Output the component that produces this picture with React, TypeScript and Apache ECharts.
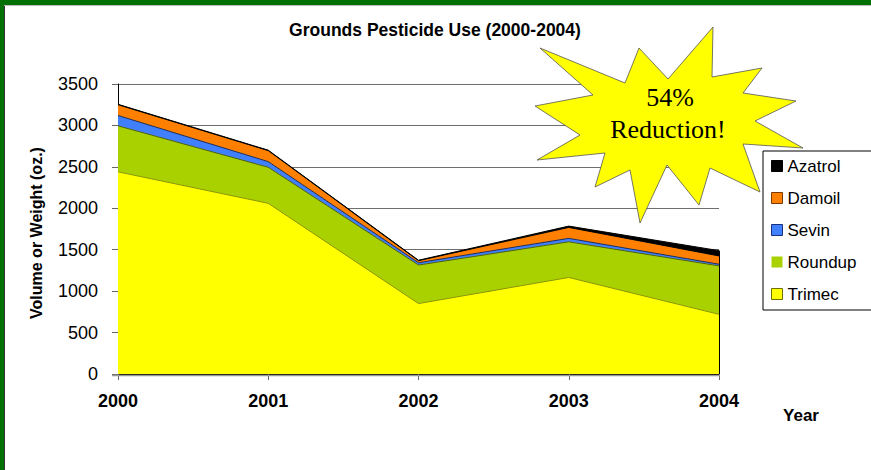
import React, { useEffect, useRef } from "react";
import * as echarts from "echarts";

const years = ["2000", "2001", "2002", "2003", "2004"];
const trimec = [2440, 2060, 850, 1165, 720];
const roundup = [555, 435, 465, 430, 585];
const sevin = [125, 68, 28, 42, 20];
const damoil = [130, 133, 25, 132, 100];
const azatrol = [5, 5, 5, 16, 64];
const yTicks = { min: 0, max: 3500, interval: 500 };

const FONT = "'Liberation Sans', Arial, sans-serif";

export default function App() {
  const ref = useRef<HTMLDivElement>(null);
  useEffect(() => {
    if (!ref.current) return;
    const chart = echarts.init(ref.current, null, { renderer: "svg" });
    const lastIdx = years.length - 1;
    const lastTotal =
      trimec[lastIdx] + roundup[lastIdx] + sevin[lastIdx] + damoil[lastIdx] + azatrol[lastIdx];

    const mk = (name: string, data: number[], color: string, line: string, extra: any = {}) => ({
      name,
      type: "line",
      stack: "total",
      data,
      symbol: "none",
      lineStyle: { color: line, width: 1 },
      areaStyle: { color, opacity: 1 },
      itemStyle: { color },
      emphasis: { disabled: true },
      ...extra,
    });

    const starPts = [
      [540, 48], [625, 83], [639, 48], [668, 79], [713, 27], [712, 77], [762, 68], [743, 93],
      [796, 101], [755, 121], [803, 148], [743, 144], [760, 192], [710, 168], [699, 205],
      [667, 165], [640, 223], [630, 170], [595, 187], [605, 153], [537, 160], [580, 135],
      [535, 106], [593, 95],
    ];

    chart.setOption({
      animation: false,
      backgroundColor: "#ffffff",
      grid: { left: 118, top: 84, right: 152, bottom: 96, containLabel: false },
      xAxis: {
        type: "category",
        data: years,
        boundaryGap: false,
        axisLine: { show: true, lineStyle: { color: "#000", width: 1 } },
        axisTick: { show: true, length: 6, lineStyle: { color: "#666" } },
        axisLabel: {
          color: "#000",
          fontFamily: FONT,
          fontSize: 18,
          fontWeight: "bold",
          margin: 18,
        },
        splitLine: { show: false },
      },
      yAxis: {
        type: "value",
        min: yTicks.min,
        max: yTicks.max,
        interval: yTicks.interval,
        axisLine: { show: true, lineStyle: { color: "#000", width: 1 } },
        axisTick: { show: true, length: 6, lineStyle: { color: "#666" } },
        axisLabel: {
          color: "#000",
          fontFamily: FONT,
          fontSize: 18,
          margin: 20,
          formatter: (v: number) => String(v),
        },
        splitLine: { show: true, lineStyle: { color: "#6e6e6e", width: 1 } },
      },
      legend: {
        orient: "vertical",
        left: 763,
        top: 151,
        padding: [6, 40, 7, 8],
        itemGap: 14,
        itemWidth: 11,
        itemHeight: 11,
        icon: "rect",
        backgroundColor: "#ffffff",
        borderColor: "#000",
        borderWidth: 1,
        borderRadius: 0,
        textStyle: { color: "#000", fontFamily: FONT, fontSize: 17, lineHeight: 18 },
        data: [
          { name: "Azatrol", itemStyle: { color: "#000000", borderColor: "#000", borderWidth: 1 } },
          { name: "Damoil", itemStyle: { color: "#FF8000", borderColor: "#7a3a00", borderWidth: 1 } },
          { name: "Sevin", itemStyle: { color: "#4080FF", borderColor: "#1a2f80", borderWidth: 1 } },
          { name: "Roundup", itemStyle: { color: "#A9D100", borderColor: "#A9D100", borderWidth: 0 } },
          { name: "Trimec", itemStyle: { color: "#FFFF00", borderColor: "#6f6f00", borderWidth: 1 } },
        ],
      },
      series: [
        mk("Trimec", trimec, "#FFFF00", "#8a9600", {
          markLine: {
            silent: true,
            symbol: "none",
            label: { show: false },
            lineStyle: { color: "#000", width: 1, type: "solid" },
            data: [[{ coord: [years[lastIdx], 0] }, { coord: [years[lastIdx], lastTotal] }]],
          },
        }),
        mk("Roundup", roundup, "#A9D100", "#4f6200"),
        mk("Sevin", sevin, "#4080FF", "#1b2a55"),
        mk("Damoil", damoil, "#FF8000", "#000"),
        mk("Azatrol", azatrol, "#000000", "#000"),
      ],
      graphic: [
        { type: "rect", shape: { x: 0, y: 0, width: 871, height: 5 }, style: { fill: "#037003" }, z: 100 },
        { type: "rect", shape: { x: 0, y: 0, width: 4, height: 470 }, style: { fill: "#037003" }, z: 100 },
        { type: "line", shape: { x1: 4.5, y1: 5, x2: 4.5, y2: 470 }, style: { stroke: "#333", lineWidth: 1 }, z: 100 },
        { type: "line", shape: { x1: 4, y1: 5.5, x2: 871, y2: 5.5 }, style: { stroke: "#bbb", lineWidth: 1 }, z: 100 },
        { type: "line", shape: { x1: 112, y1: 375.5, x2: 720, y2: 375.5 }, style: { stroke: "#9a9a9a", lineWidth: 1.5 }, z: 5 },
        {
          type: "text",
          x: 435,
          y: 30,
          style: {
            text: "Grounds Pesticide Use (2000-2004)",
            fill: "#000",
            font: `bold 17.5px ${FONT}`,
            textAlign: "center",
            textVerticalAlign: "middle",
          },
        },
        {
          type: "text",
          x: 36,
          y: 233,
          rotation: Math.PI / 2,
          style: {
            text: "Volume or Weight (oz.)",
            fill: "#000",
            font: `bold 16px ${FONT}`,
            textAlign: "center",
            textVerticalAlign: "middle",
          },
        },
        {
          type: "text",
          x: 801,
          y: 415,
          style: {
            text: "Year",
            fill: "#000",
            font: `bold 17px ${FONT}`,
            textAlign: "center",
            textVerticalAlign: "middle",
          },
        },
        {
          type: "polygon",
          shape: { points: starPts },
          style: { fill: "#FFFF00", stroke: "#555", lineWidth: 0.8 },
          z: 50,
        },
        {
          type: "text",
          x: 670,
          y: 97,
          z: 51,
          style: {
            text: "54%",
            fill: "#000",
            font: "26px 'Liberation Serif', 'Times New Roman', serif",
            textAlign: "center",
            textVerticalAlign: "middle",
          },
        },
        {
          type: "text",
          x: 668,
          y: 129,
          z: 51,
          style: {
            text: "Reduction!",
            fill: "#000",
            font: "26px 'Liberation Serif', 'Times New Roman', serif",
            textAlign: "center",
            textVerticalAlign: "middle",
          },
        },
      ],
    });
    return () => chart.dispose();
  }, []);

  return (
    <div
      ref={ref}
      style={{ position: "fixed", left: 0, top: 0, width: 871, height: 470, background: "#fff" }}
    />
  );
}
